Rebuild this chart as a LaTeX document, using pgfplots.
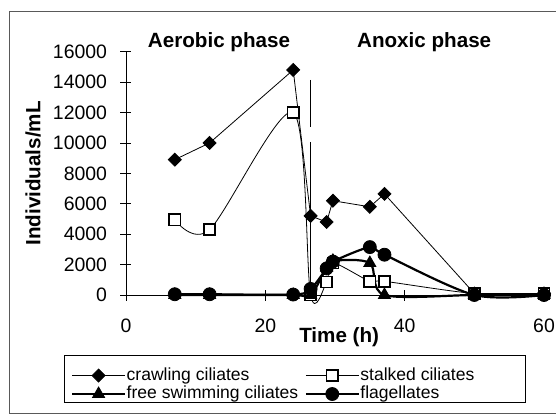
\documentclass[border=0pt]{standalone}
\usepackage{pgfplots}
\pgfplotsset{compat=1.18}
\usepackage{fontspec}
\setmainfont{Liberation Sans}
\begin{document}
\begin{tikzpicture}[x=1bp,y=1bp]
\useasboundingbox (-126,-119) rectangle (430,295);
\draw[gray!70!black, line width=0.8bp] (440,284) -- (-117,284) -- (-117,-118) -- (440,-118);
\begin{axis}[
  at={(0,0)}, anchor=south west,
  scale only axis, width=418bp, height=243.3bp,
  xmin=0, xmax=60, ymin=0, ymax=16000,
  axis lines=left, axis line style={-, line width=0.8bp},
  xtick={0,20,40,60}, ytick={0,2000,...,16000},
  tick align=center, major tick length=11bp,
  tick style={black, line width=0.8bp},
  scaled y ticks=false,
  /pgf/number format/1000 sep={},
  /pgf/number format/assume math mode=true,
  ticklabel style={font=\fontsize{19.5}{19.5}\selectfont},
  xticklabel style={yshift=-15bp},
  yticklabel style={xshift=-10bp},
  clip=false,
  xlabel={Time (h)}, ylabel={Individuals/mL},
  label style={font=\bfseries\fontsize{20.7}{21}\selectfont},
  xlabel style={at={(axis description cs:0.51,0)}, anchor=center, yshift=-42bp},
  ylabel style={at={([xshift=-93bp]axis description cs:0,0.5)}, anchor=center},
  legend columns=2,
  legend cell align=left,
  legend style={draw=none, fill=none, inner sep=0pt, outer sep=0pt,
    at={(axis description cs:-0.1316,-0.296)}, anchor=north west,
    font=\fontsize{17.6}{18}\selectfont,
    nodes={inner sep=0.5bp, text height=12.5bp, text depth=3.5bp},
    row sep=1.5bp,
    /tikz/every even column/.append style={column sep=6bp}},
  legend image code/.code={\draw[mark repeat=2,mark phase=2,#1] plot coordinates {(0bp,0bp) (26.5bp,0bp) (53bp,0bp)};},
]
% crawling ciliates
\addplot[black, line width=0.8bp, mark=square*, mark size=4.6bp, mark options={rotate=45, solid}]
  coordinates {(7,8900)(12,10000)(24,14800)(26.5,5200)(28.8,4800)(29.7,6200)(35,5800)(37.1,6650)(50,100)(60,100)};
% stalked ciliates
\addplot[black, line width=0.8bp, smooth, mark=square*, mark size=5.6bp, mark options={fill=white, draw=black, line width=1.6bp}]
  coordinates {(7,4950)(12,4300)(24,12000)(26.5,0)(28.8,850)(29.7,2100)(35,900)(37.1,900)(50,100)(60,100)};
% free swimming ciliates
\addplot[black, line width=2.2bp, smooth, mark=triangle*, mark size=7bp, mark options={line width=0.8bp}]
  coordinates {(7,0)(12,0)(24,0)(26.5,0)(28.8,1800)(29.7,2250)(35,2100)(37.1,0)(50,0)(60,0)};
% flagellates
\addplot[black, line width=2.2bp, smooth, mark=*, mark size=6.5bp, mark options={line width=0.8bp}]
  coordinates {(7,50)(12,50)(24,30)(26.5,400)(28.8,1750)(29.7,2200)(35,3150)(37.1,2650)(50,0)(60,0)};
% phase divider
\addplot[black, line width=0.8bp, forget plot] coordinates {(26.4,14150)(26.4,11060)};
\addplot[black, line width=0.8bp, forget plot] coordinates {(26.4,10070)(26.4,0)};
\legend{crawling ciliates, stalked ciliates, free swimming ciliates, flagellates}
\node[font=\bfseries\fontsize{20.7}{21}\selectfont] at (axis cs:13.35,16640) {Aerobic phase};
\node[font=\bfseries\fontsize{20.7}{21}\selectfont] at (axis cs:42.8,16640) {Anoxic phase};
\end{axis}
\draw[black, line width=0.8bp] (-62,-60) rectangle (399,-107);
\end{tikzpicture}
\end{document}
